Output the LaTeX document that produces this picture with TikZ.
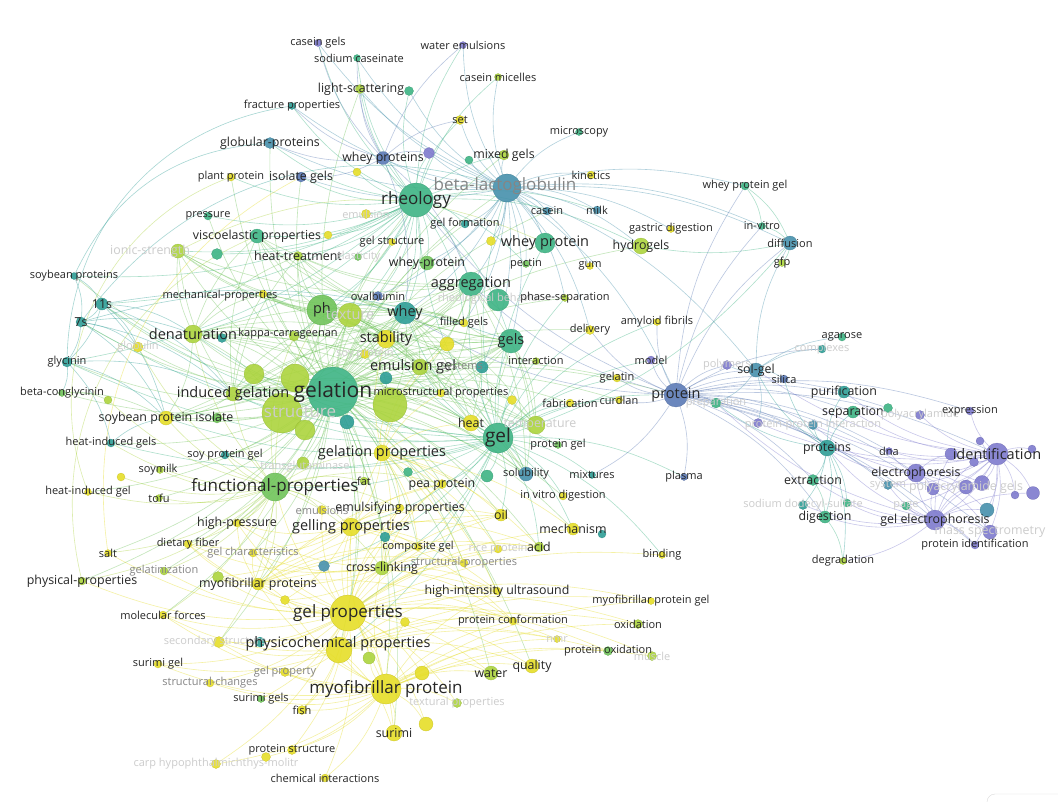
\documentclass[tikz,border=0pt]{standalone}
\usepackage{fontspec}
\setmainfont{Open Sans}
\usetikzlibrary{backgrounds}
\definecolor{VosYellow}{RGB}{230,222,40}
\definecolor{VosLime}{RGB}{172,212,62}
\definecolor{VosGreen}{RGB}{112,196,90}
\definecolor{VosSea}{RGB}{62,180,132}
\definecolor{VosTeal}{RGB}{46,158,150}
\definecolor{VosCyan}{RGB}{70,145,172}
\definecolor{VosBlue}{RGB}{92,122,182}
\definecolor{VosPurple}{RGB}{126,122,206}
\tikzset{
  kw/dot/.style={
    circle,
    fill=#1,
    draw=#1!85!black,
    line width=.2pt,
    inner sep=0pt,
    fill opacity=.9
  },
  kw/edge/.style={draw=#1, line width=.6pt, opacity=.42},
  kw/s/.style={inner sep=0pt, text=black!85, font=\fontsize{11}{11}\selectfont},
  kw/m/.style={inner sep=0pt, text=black!85, font=\fontsize{12.4}{12.4}\selectfont},
  kw/l/.style={inner sep=0pt, text=black!85, font=\fontsize{14.5}{14.5}\selectfont},
  kw/xl/.style={inner sep=0pt, text=black!85, font=\fontsize{17}{17}\selectfont},
  kw/xxl/.style={inner sep=0pt, text=black!85, font=\fontsize{19}{19}\selectfont},
  kw/top/.style={inner sep=0pt, text=black!85, font=\fontsize{21}{21}\selectfont},
  kw/grey/.style={text=black!48},
  kw/dim/.style={text=black!20}
}

\begin{document}
\begin{tikzpicture}[x=1pt,y=-1pt]
  \useasboundingbox (0,0) rectangle (1058,801);

  % keyword circles
  \node[kw/dot=VosPurple, minimum size=7pt] (caseingels) at (318,43) {};
  \node[kw/dot=VosSea, minimum size=7pt] (sodcas) at (357,58) {};
  \node[kw/dot=VosPurple, minimum size=7pt] (wateremul) at (463,45) {};
  \node[kw/dot=VosLime, minimum size=7pt] (caseinmic) at (498,77) {};
  \node[kw/dot=VosLime, minimum size=9pt] (lightsc) at (360,89) {};
  \node[kw/dot=VosSea, minimum size=9pt] (dot1) at (409,91) {};
  \node[kw/dot=VosTeal, minimum size=7pt] (fracture) at (292,106) {};
  \node[kw/dot=VosYellow, minimum size=9pt] (setn) at (460,120) {};
  \node[kw/dot=VosSea, minimum size=7pt] (microscopy) at (579,132) {};
  \node[kw/dot=VosCyan, minimum size=11pt] (globular) at (270,143) {};
  \node[kw/dot=VosBlue, minimum size=13pt] (wheyprots) at (383,158) {};
  \node[kw/dot=VosPurple, minimum size=11pt] (dot2) at (429,153) {};
  \node[kw/dot=VosSea, minimum size=8pt] (dot3) at (469,160) {};
  \node[kw/dot=VosLime, minimum size=10pt] (mixedgels) at (504,155) {};
  \node[kw/dot=VosYellow, minimum size=8pt] (kinetics) at (591,175) {};
  \node[kw/dot=VosSea, minimum size=8pt] (wpgel) at (745,186) {};
  \node[kw/dot=VosCyan, minimum size=28pt] (blg) at (507,188) {};
  \node[kw/dot=VosSea, minimum size=34pt] (rheology) at (416,200) {};
  \node[kw/dot=VosYellow, minimum size=8pt] (plantprot) at (231,177) {};
  \node[kw/dot=VosBlue, minimum size=10pt] (isolgels) at (301,177) {};
  \node[kw/dot=VosYellow, minimum size=8pt] (dot4) at (357,172) {};
  \node[kw/dot=VosSea, minimum size=8pt] (pressure) at (208,216) {};
  \node[kw/dot=VosYellow, minimum size=9pt] (emulsion) at (366,214) {};
  \node[kw/dot=VosSea, minimum size=14pt] (visco) at (257,236) {};
  \node[kw/dot=VosYellow, minimum size=8pt] (dot5) at (328,235) {};
  \node[kw/dot=VosLime, minimum size=14pt] (ionic) at (178,251) {};
  \node[kw/dot=VosSea, minimum size=11pt] (dot6) at (217,254) {};
  \node[kw/dot=VosLime, minimum size=9pt] (heattr) at (298,256) {};
  \node[kw/dot=VosGreen, minimum size=7pt] (elastic) at (358,257) {};
  \node[kw/dot=VosYellow, minimum size=7pt] (gelstruct) at (392,242) {};
  \node[kw/dot=VosTeal, minimum size=8pt] (gelform) at (465,224) {};
  \node[kw/dot=VosYellow, minimum size=9pt] (dot7) at (491,241) {};
  \node[kw/dot=VosGreen, minimum size=14pt] (wheyprotein2) at (427,263) {};
  \node[kw/dot=VosSea, minimum size=20pt] (wheyprotein) at (545,243) {};
  \node[kw/dot=VosCyan, minimum size=8pt] (casein) at (547,211) {};
  \node[kw/dot=VosCyan, minimum size=8pt] (milk) at (597,210) {};
  \node[kw/dot=VosYellow, minimum size=7pt] (gastric) at (671,229) {};
  \node[kw/dot=VosLime, minimum size=16pt] (hydrogels) at (641,246) {};
  \node[kw/dot=VosSea, minimum size=7pt] (invitro) at (762,226) {};
  \node[kw/dot=VosCyan, minimum size=14pt] (diffusion) at (790,243) {};
  \node[kw/dot=VosLime, minimum size=7pt] (gfp) at (782,263) {};
  \node[kw/dot=VosGreen, minimum size=7pt] (pectin) at (526,264) {};
  \node[kw/dot=VosYellow, minimum size=7pt] (gum) at (590,266) {};

  \node[kw/dot=VosTeal, minimum size=7pt] (soyprots) at (74,276) {};
  \node[kw/dot=VosYellow, minimum size=8pt] (mechprop) at (263,294) {};
  \node[kw/dot=VosTeal, minimum size=12pt] (elevens) at (102,304) {};
  \node[kw/dot=VosTeal, minimum size=10pt] (sevens) at (81,322) {};
  \node[kw/dot=VosLime, minimum size=18pt] (denat) at (193,334) {};
  \node[kw/dot=VosTeal, minimum size=9pt] (dot8) at (222,338) {};
  \node[kw/dot=VosLime, minimum size=10pt] (kappa) at (294,336) {};
  \node[kw/dot=VosYellow, minimum size=10pt] (globulin) at (138,347) {};
  \node[kw/dot=VosTeal, minimum size=10pt] (glycinin) at (67,362) {};
  \node[kw/dot=VosGreen, minimum size=7pt] (betacong) at (62,393) {};
  \node[kw/dot=VosLime, minimum size=8pt] (dot9) at (108,400) {};
  \node[kw/dot=VosGreen, minimum size=30pt] (ph) at (322,310) {};
  \node[kw/dot=VosLime, minimum size=24pt] (texture) at (350,315) {};
  \node[kw/dot=VosBlue, minimum size=9pt] (ovalb) at (378,296) {};
  \node[kw/dot=VosTeal, minimum size=22pt] (whey) at (405,313) {};
  \node[kw/dot=VosSea, minimum size=24pt] (aggreg) at (471,284) {};
  \node[kw/dot=VosSea, minimum size=22pt] (rheobeh) at (498,300) {};
  \node[kw/dot=VosLime, minimum size=7pt] (phasesep) at (565,298) {};
  \node[kw/dot=VosYellow, minimum size=8pt] (filled) at (464,323) {};
  \node[kw/dot=VosYellow, minimum size=18pt] (stability) at (386,339) {};
  \node[kw/dot=VosYellow, minimum size=9pt] (soyprotein) at (365,354) {};
  \node[kw/dot=VosYellow, minimum size=9pt] (delivery) at (590,330) {};
  \node[kw/dot=VosYellow, minimum size=7pt] (amyloid) at (657,322) {};
  \node[kw/dot=VosSea, minimum size=24pt] (gels) at (511,341) {};
  \node[kw/dot=VosYellow, minimum size=14pt] (dot10) at (447,344) {};
  \node[kw/dot=VosLime, minimum size=7pt] (interaction) at (536,361) {};
  \node[kw/dot=VosPurple, minimum size=8pt] (model) at (651,360) {};
  \node[kw/dot=VosLime, minimum size=16pt] (emulgel) at (420,367) {};
  \node[kw/dot=VosTeal, minimum size=12pt] (dot11) at (386,378) {};
  \node[kw/dot=VosTeal, minimum size=12pt] (systems) at (482,367) {};
  \node[kw/dot=VosYellow, minimum size=8pt] (gelatin) at (617,378) {};
  \node[kw/dot=VosYellow, minimum size=8pt] (microstr) at (441,393) {};
  \node[kw/dot=VosLime, minimum size=34pt] (dot12) at (390,405) {};
  \node[kw/dot=VosLime, minimum size=20pt] (dot13) at (254,374) {};
  \node[kw/dot=VosLime, minimum size=28pt] (dot14) at (295,378) {};
  \node[kw/dot=VosLime, minimum size=40pt] (structure) at (282,413) {};
  \node[kw/dot=VosLime, minimum size=20pt] (dot15) at (305,430) {};
  \node[kw/dot=VosTeal, minimum size=14pt] (dot16) at (347,422) {};
  \node[kw/dot=VosSea, minimum size=50pt] (gelation) at (333,392) {};
  \node[kw/dot=VosLime, minimum size=14pt] (induced) at (233,394) {};
  \node[kw/dot=VosBlue, minimum size=24pt] (protein) at (676,395) {};
  \node[kw/dot=VosYellow, minimum size=8pt] (fabric) at (570,403) {};
  \node[kw/dot=VosYellow, minimum size=7pt] (curdlan) at (619,400) {};
  \node[kw/dot=VosYellow, minimum size=9pt] (dot17) at (512,400) {};
  \node[kw/dot=VosYellow, minimum size=14pt] (spi) at (166,418) {};
  \node[kw/dot=VosGreen, minimum size=10pt] (dot18) at (217,418) {};
  \node[kw/dot=VosYellow, minimum size=16pt] (heat) at (471,423) {};
  \node[kw/dot=VosLime, minimum size=18pt] (temper) at (536,425) {};
  \node[kw/dot=VosSea, minimum size=30pt] (gel) at (498,438) {};
  \node[kw/dot=VosGreen, minimum size=7pt] (protgel) at (558,445) {};
  \node[kw/dot=VosTeal, minimum size=8pt] (hig) at (111,443) {};
  \node[kw/dot=VosTeal, minimum size=8pt] (soyprotgel) at (225,455) {};
  \node[kw/dot=VosYellow, minimum size=16pt] (gelprop) at (382,453) {};
  \node[kw/dot=VosYellow, minimum size=8pt] (dot19) at (121,477) {};
  \node[kw/dot=VosLime, minimum size=7pt] (soymilk) at (160,470) {};
  \node[kw/dot=VosLime, minimum size=12pt] (transglu) at (303,463) {};
  \node[kw/dot=VosLime, minimum size=8pt] (fat) at (364,481) {};
  \node[kw/dot=VosSea, minimum size=9pt] (dot20) at (408,472) {};
  \node[kw/dot=VosYellow, minimum size=9pt] (peaprot) at (442,484) {};
  \node[kw/dot=VosSea, minimum size=12pt] (dot21) at (487,476) {};
  \node[kw/dot=VosCyan, minimum size=14pt] (solub) at (526,474) {};
  \node[kw/dot=VosTeal, minimum size=7pt] (mixtures) at (592,475) {};
  \node[kw/dot=VosBlue, minimum size=7pt] (plasma) at (684,477) {};
  \node[kw/dot=VosYellow, minimum size=7pt] (higel) at (88,492) {};
  \node[kw/dot=VosLime, minimum size=7pt] (tofu) at (159,498) {};
  \node[kw/dot=VosGreen, minimum size=28pt] (funcprop) at (275,487) {};
  \node[kw/dot=VosYellow, minimum size=8pt] (invitrodig) at (563,496) {};
  \node[kw/dot=VosYellow, minimum size=9pt] (emulsions) at (322,510) {};
  \node[kw/dot=VosYellow, minimum size=8pt] (emulsif) at (400,508) {};
  \node[kw/dot=VosYellow, minimum size=12pt] (oil) at (501,515) {};
  \node[kw/dot=VosYellow, minimum size=8pt] (highpress) at (237,523) {};
  \node[kw/dot=VosYellow, minimum size=18pt] (gellingprop) at (351,527) {};
  \node[kw/dot=VosYellow, minimum size=12pt] (mechanism) at (573,529) {};
  \node[kw/dot=VosTeal, minimum size=8pt] (dot22) at (602,534) {};
  \node[kw/dot=VosTeal, minimum size=10pt] (dot23) at (385,537) {};
  \node[kw/dot=VosYellow, minimum size=7pt] (compgel) at (418,547) {};
  \node[kw/dot=VosYellow, minimum size=8pt] (dietfib) at (188,544) {};
  \node[kw/dot=VosYellow, minimum size=7pt] (salt) at (108,553) {};
  \node[kw/dot=VosYellow, minimum size=8pt] (gelchar) at (253,553) {};
  \node[kw/dot=VosYellow, minimum size=8pt] (riceprot) at (498,549) {};
  \node[kw/dot=VosLime, minimum size=10pt] (acid) at (539,547) {};
  \node[kw/dot=VosYellow, minimum size=7pt] (binding) at (662,555) {};
  \node[kw/dot=VosLime, minimum size=8pt] (gelatiniz) at (164,571) {};
  \node[kw/dot=VosYellow, minimum size=8pt] (structprop) at (464,563) {};
  \node[kw/dot=VosLime, minimum size=14pt] (crosslink) at (382,568) {};
  \node[kw/dot=VosCyan, minimum size=11pt] (dot24) at (324,566) {};
  \node[kw/dot=VosLime, minimum size=8pt] (physprop) at (82,581) {};
  \node[kw/dot=VosYellow, minimum size=12pt] (myofprots) at (258,584) {};
  \node[kw/dot=VosLime, minimum size=11pt] (dot25) at (218,577) {};
  \node[kw/dot=VosYellow, minimum size=8pt] (hiu) at (497,591) {};
  \node[kw/dot=VosYellow, minimum size=7pt] (myopgel) at (651,601) {};
  \node[kw/dot=VosYellow, minimum size=36pt] (gelproperties) at (348,613) {};
  \node[kw/dot=VosYellow, minimum size=9pt] (dot26) at (285,600) {};
  \node[kw/dot=VosYellow, minimum size=8pt] (molforces) at (163,615) {};
  \node[kw/dot=VosYellow, minimum size=8pt] (protconf) at (513,621) {};
  \node[kw/dot=VosYellow, minimum size=9pt] (dot27) at (405,622) {};
  \node[kw/dot=VosLime, minimum size=9pt] (oxidation) at (638,624) {};
  \node[kw/dot=VosYellow, minimum size=11pt] (secstruct) at (219,642) {};
  \node[kw/dot=VosTeal, minimum size=10pt] (dot28) at (260,642) {};
  \node[kw/dot=VosYellow, minimum size=26pt] (physchem) at (339,650) {};
  \node[kw/dot=VosLime, minimum size=12pt] (dot29) at (369,658) {};
  \node[kw/dot=VosYellow, minimum size=7pt] (nmr) at (557,639) {};
  \node[kw/dot=VosGreen, minimum size=9pt] (protox) at (608,651) {};
  \node[kw/dot=VosLime, minimum size=9pt] (muscle) at (652,656) {};
  \node[kw/dot=VosYellow, minimum size=8pt] (surimigel) at (158,664) {};
  \node[kw/dot=VosYellow, minimum size=9pt] (gelproperty) at (285,672) {};
  \node[kw/dot=VosLime, minimum size=14pt] (water) at (491,673) {};
  \node[kw/dot=VosYellow, minimum size=14pt] (quality) at (532,666) {};
  \node[kw/dot=VosYellow, minimum size=14pt] (dot30) at (422,673) {};
  \node[kw/dot=VosYellow, minimum size=8pt] (structch) at (210,683) {};
  \node[kw/dot=VosYellow, minimum size=30pt] (myofprot) at (386,689) {};
  \node[kw/dot=VosLime, minimum size=9pt] (textural) at (457,703) {};
  \node[kw/dot=VosGreen, minimum size=7pt] (surimigels) at (261,699) {};
  \node[kw/dot=VosYellow, minimum size=9pt] (fish) at (302,710) {};
  \node[kw/dot=VosYellow, minimum size=16pt] (surimi) at (394,733) {};
  \node[kw/dot=VosYellow, minimum size=14pt] (dot31) at (426,724) {};
  \node[kw/dot=VosYellow, minimum size=9pt] (protstruct) at (292,750) {};
  \node[kw/dot=VosYellow, minimum size=9pt] (dot32) at (266,757) {};
  \node[kw/dot=VosYellow, minimum size=9pt] (carp) at (216,764) {};
  \node[kw/dot=VosYellow, minimum size=8pt] (cheminter) at (325,778) {};

  \node[kw/dot=VosSea, minimum size=8pt] (agarose) at (842,337) {};
  \node[kw/dot=VosTeal, minimum size=8pt] (complexes) at (822,349) {};
  \node[kw/dot=VosPurple, minimum size=9pt] (polymers) at (727,365) {};
  \node[kw/dot=VosCyan, minimum size=14pt] (solgel) at (756,370) {};
  \node[kw/dot=VosBlue, minimum size=8pt] (silica) at (784,379) {};
  \node[kw/dot=VosSea, minimum size=10pt] (prep) at (716,403) {};
  \node[kw/dot=VosTeal, minimum size=12pt] (purif) at (844,392) {};
  \node[kw/dot=VosSea, minimum size=12pt] (separ) at (853,412) {};
  \node[kw/dot=VosSea, minimum size=9pt] (dot33) at (888,408) {};
  \node[kw/dot=VosPurple, minimum size=9pt] (polyacr) at (920,415) {};
  \node[kw/dot=VosPurple, minimum size=8pt] (expression) at (970,411) {};
  \node[kw/dot=VosPurple, minimum size=9pt] (dot34) at (758,423) {};
  \node[kw/dot=VosCyan, minimum size=9pt] (ppi) at (813,425) {};
  \node[kw/dot=VosTeal, minimum size=16pt] (proteins) at (827,448) {};
  \node[kw/dot=VosPurple, minimum size=7pt] (dna) at (889,451) {};
  \node[kw/dot=VosPurple, minimum size=8pt] (mice) at (980,441) {};
  \node[kw/dot=VosPurple, minimum size=22pt] (ident) at (997,454) {};
  \node[kw/dot=VosPurple, minimum size=12pt] (dot35) at (951,454) {};
  \node[kw/dot=VosPurple, minimum size=9pt] (dot36) at (974,462) {};
  \node[kw/dot=VosPurple, minimum size=8pt] (dot37) at (1032,449) {};
  \node[kw/dot=VosPurple, minimum size=18pt] (electro) at (916,473) {};
  \node[kw/dot=VosPurple, minimum size=12pt] (dot38) at (933,489) {};
  \node[kw/dot=VosPurple, minimum size=14pt] (polygels) at (966,487) {};
  \node[kw/dot=VosPurple, minimum size=15pt] (dot40) at (982,483) {};
  \node[kw/dot=VosPurple, minimum size=8pt] (dot41) at (1015,495) {};
  \node[kw/dot=VosPurple, minimum size=13pt] (dot42) at (1033,493) {};
  \node[kw/dot=VosCyan, minimum size=9pt] (system) at (888,485) {};
  \node[kw/dot=VosSea, minimum size=11pt] (extraction) at (813,480) {};
  \node[kw/dot=VosTeal, minimum size=9pt] (sds) at (803,505) {};
  \node[kw/dot=VosSea, minimum size=8pt] (dot43) at (847,503) {};
  \node[kw/dot=VosSea, minimum size=8pt] (page) at (906,506) {};
  \node[kw/dot=VosSea, minimum size=12pt] (digestion) at (825,517) {};
  \node[kw/dot=VosPurple, minimum size=20pt] (gelelec) at (935,520) {};
  \node[kw/dot=VosCyan, minimum size=14pt] (dot44) at (987,510) {};
  \node[kw/dot=VosPurple, minimum size=14pt] (massspec) at (990,532) {};
  \node[kw/dot=VosPurple, minimum size=8pt] (protident) at (975,545) {};
  \node[kw/dot=VosLime, minimum size=7pt] (degrad) at (843,561) {};

  % links, behind the circles
  \begin{scope}[on background layer]
    \fill[white] (0,0) rectangle (1058,801);
    \foreach \t in {ph,texture,whey,rheology,stability,emulgel,induced,denat,funcprop,gelprop,gellingprop,gelproperties,physchem,myofprot,gel,gels,heat,aggreg,wheyprotein,spi,soyprotgel,hig,glycinin,elevens,sevens,soyprots,kappa,visco,heattr,ionic,pressure,globular,isolgels,plantprot,mechprop,microstr,temper,protein,solub,peaprot,emulsif,crosslink,myofprots,highpress,dietfib,salt,tofu,soymilk,higel,betacong,globulin,blg,fat,transglu,oil,mechanism,hydrogels,delivery,filled,phasesep,interaction,gelatin,curdlan,fabric,compgel,acid,hiu,physprop,gelatiniz,gelchar,structprop,riceprot,wheyprotein2,gelstruct,gelform,casein,mixedgels,lightsc,ovalb,surimi,water,quality,invitrodig,protgel,molforces,secstruct,dot13,dot14,structure,dot12,dot15,dot16,dot8,dot18,systems,dot10,dot11,dot17}
      \draw[kw/edge=VosGreen] (gelation) to[bend left=14] (\t);
    \foreach \t in {protein,gels,heat,temper,protgel,solub,mixtures,plasma,invitrodig,fabric,curdlan,gelatin,delivery,interaction,aggreg,whey,stability,rheology,blg,wheyprotein,funcprop,gellingprop,gelproperties,oil,mechanism,acid,binding,peaprot,emulgel,dot21,dot24,crosslink,gelprop,physchem,induced,denat,spi,soyprotgel,elevens,sevens,glycinin,hig,model,amyloid,phasesep,systems,dot17}
      \draw[kw/edge=VosSea] (gel) to[bend left=14] (\t);
    \foreach \t in {blg,wheyprots,globular,visco,heattr,lightsc,fracture,caseingels,sodcas,setn,wateremul,caseinmic,dot1,dot2,mixedgels,gelform,gelstruct,wheyprotein2,aggreg,ph,whey,texture,stability,gels,kappa,isolgels,plantprot,pressure,emulsion,ionic,elevens,glycinin,denat,milk,casein,pectin,hydrogels,ovalb,dot4,dot5,dot6,elastic,soyprots,filled}
      \draw[kw/edge=VosSea] (rheology) to[bend left=14] (\t);
    \foreach \t in {wheyprots,dot2,dot3,mixedgels,setn,wateremul,caseinmic,microscopy,kinetics,wpgel,diffusion,invitro,casein,milk,wheyprotein,aggreg,gels,whey,protein,gastric,hydrogels,globular,lightsc,sodcas,fracture,gelform,phasesep,pectin,gum,delivery,solgel,dot1,caseingels,isolgels,ovalb,wheyprotein2,filled,systems,dot7}
      \draw[kw/edge=VosCyan] (blg) to[bend left=14] (\t);
    \foreach \t in {caseingels,sodcas,wateremul,globular,fracture,isolgels,setn,dot2,lightsc,whey,aggreg}
      \draw[kw/edge=VosBlue] (wheyprots) to[bend left=14] (\t);
    \foreach \t in {solgel,silica,polymers,prep,purif,separ,ppi,proteins,ident,electro,gelelec,dna,digestion,extraction,model,dot34,wpgel,diffusion,invitro,massspec,protident,expression,plasma,mixtures,gelatin,curdlan,delivery,amyloid,rheology,whey,aggreg,complexes,system,dot33}
      \draw[kw/edge=VosBlue] (protein) to[bend left=14] (\t);
    \foreach \t in {dot35,dot36,dot37,electro,dot38,polygels,dot40,dot41,dot42,gelelec,massspec,protident,expression,mice,dna,dot44,polyacr,proteins,system,page,separ,purif,solgel,ppi,dot34}
      \draw[kw/edge=VosPurple] (ident) to[bend left=14] (\t);
    \foreach \t in {electro,dot38,polygels,dot40,dot42,dot44,massspec,protident,digestion,sds,extraction,proteins,page,dot43,degrad,system,prep,dot35,dot36}
      \draw[kw/edge=VosPurple] (gelelec) to[bend left=14] (\t);
    \foreach \t in {dot38,polygels,dot40,dot35,dot44,massspec,proteins,dna,system,ppi}
      \draw[kw/edge=VosPurple] (electro) to[bend left=14] (\t);
    \foreach \t in {digestion,extraction,degrad,sds,dot43,purif,separ,ppi,solgel,prep,silica}
      \draw[kw/edge=VosTeal] (proteins) to[bend left=14] (\t);
    \foreach \t in {silica,complexes,agarose,prep,polymers,dot34,diffusion}
      \draw[kw/edge=VosCyan] (solgel) to[bend left=14] (\t);
    \foreach \t in {myofprot,physchem,myofprots,gellingprop,crosslink,hiu,protconf,water,quality,surimi,dot31,dot30,fish,surimigels,gelproperty,structch,surimigel,secstruct,molforces,physprop,salt,dietfib,gelatiniz,gelchar,dot25,dot26,dot28,dot29,oxidation,protox,myopgel,nmr,muscle,textural,binding,mechanism,acid,structprop,riceprot,compgel,oil,emulsif,peaprot,highpress,funcprop,protstruct,cheminter,carp,dot27,gelprop,dot23,dot24,emulsions}
      \draw[kw/edge=VosYellow] (gelproperties) to[bend left=14] (\t);
    \foreach \t in {surimi,dot31,fish,surimigels,gelproperty,protstruct,dot32,cheminter,carp,water,quality,textural,protox,oxidation,muscle,nmr,protconf,hiu,physchem,myofprots,crosslink,gellingprop,structch,secstruct,surimigel,molforces,myopgel,dot29,dot30,dot27,dot26}
      \draw[kw/edge=VosYellow] (myofprot) to[bend left=14] (\t);
    \foreach \t in {spi,soyprotgel,soymilk,tofu,higel,hig,highpress,dietfib,salt,physprop,gelatiniz,gelchar,myofprots,gellingprop,gelprop,emulsions,emulsif,transglu,fat,peaprot,crosslink,denat,induced,ph,dot19,dot9,globulin,kappa,secstruct,molforces}
      \draw[kw/edge=VosLime] (funcprop) to[bend left=14] (\t);
    \foreach \t in {hiu,protconf,water,quality,nmr,protox,oxidation,myopgel,secstruct,molforces,surimigel,gelproperty,fish,surimi}
      \draw[kw/edge=VosYellow] (physchem) to[bend left=14] (\t);
    \foreach \t in {gellingprop,crosslink,heat,oil,emulsif,peaprot,stability,emulgel,dot10,dot12,microstr,compgel,structprop,riceprot,hiu,acid,mechanism}
      \draw[kw/edge=VosYellow] (gelprop) to[bend left=14] (\t);
    % mesh among the mid-sized keywords
    \foreach \s in {ph,whey,aggreg,gels,texture,denat,induced}
      \foreach \t in {visco,heattr,kappa,mechprop,ionic,stability,emulgel,heat,temper,solub,spi,filled,microstr,dot12,dot14,structure}
        \draw[kw/edge=VosGreen] (\s) to[bend left=14] (\t);
    \foreach \s in {gellingprop,crosslink,myofprots}
      \foreach \t in {highpress,dietfib,gelchar,compgel,structprop,hiu,protconf,emulsif,peaprot,oil,acid,dot25,dot26}
        \draw[kw/edge=VosYellow] (\s) to[bend left=14] (\t);
    \foreach \t in {sevens,glycinin,spi,globulin,denat,induced,gels}
      \draw[kw/edge=VosTeal] (elevens) to[bend left=14] (\t);
    \foreach \t in {glycinin,spi,globulin,denat,induced,whey}
      \draw[kw/edge=VosTeal] (sevens) to[bend left=14] (\t);
    \foreach \t in {elevens,sevens}
      \draw[kw/edge=VosTeal] (soyprots) to[bend left=14] (\t);
    \foreach \t in {betacong,spi,hig,induced}
      \draw[kw/edge=VosTeal] (glycinin) to[bend left=14] (\t);
    \draw[kw/edge=VosGreen] (betacong) to[bend left=14] (spi);
    \draw[kw/edge=VosGreen] (betacong) to[bend left=14] (dot9);
    \draw[kw/edge=VosTeal] (hig) to[bend left=14] (spi);
    % long arcs round the left side
    \draw[kw/edge=VosTeal] (soyprots) to[bend left=30] (globular);
    \draw[kw/edge=VosTeal] (glycinin) to[bend left=40] (fracture);
    \draw[kw/edge=VosLime] (higel) to[bend left=45] (plantprot);
    \draw[kw/edge=VosLime] (physprop) to[bend left=40] (visco);
    \draw[kw/edge=VosYellow] (salt) to[bend left=35] (isolgels);
    \draw[kw/edge=VosTeal] (sevens) to[bend left=35] (blg);
    \draw[kw/edge=VosLime] (ionic) to[bend left=25] (wheyprotein);
    % whey protein gel corner
    \draw[kw/edge=VosSea] (wpgel) to[bend left=14] (invitro);
    \draw[kw/edge=VosSea] (wpgel) to[bend left=14] (diffusion);
    \draw[kw/edge=VosSea] (invitro) to[bend left=14] (diffusion);
    \draw[kw/edge=VosSea] (diffusion) to[bend left=14] (gfp);
    \draw[kw/edge=VosSea] (gel) to[bend right=15] (diffusion);
    \draw[kw/edge=VosSea] (hydrogels) to[bend right=10] (diffusion);
    \draw[kw/edge=VosSea] (digestion) to[bend left=14] (degrad);
    \draw[kw/edge=VosSea] (extraction) to[bend left=14] (digestion);
  \end{scope}

  % bottom right corner of the view frame
  \draw[black!15, rounded corners=8pt] (987,806) -- (987,794) -- (1062,794);

  % keyword labels
  \node[kw/s] (caseingels-t) at (caseingels) {casein gels};
  \node[kw/s] (sodcas-t) at (359,58) {sodium caseinate};
  \node[kw/s] (wateremul-t) at (wateremul) {water emulsions};
  \node[kw/s] (caseinmic-t) at (caseinmic) {casein micelles};
  \node[kw/m] (lightsc-t) at (361,89) {light-scattering};
  \node[kw/s] (fracture-t) at (fracture) {fracture properties};
  \node[kw/s] (setn-t) at (setn) {set};
  \node[kw/s] (microscopy-t) at (microscopy) {microscopy};
  \node[kw/m] (globular-t) at (globular) {globular-proteins};
  \node[kw/m] (wheyprots-t) at (wheyprots) {whey proteins};
  \node[kw/m] (mixedgels-t) at (mixedgels) {mixed gels};
  \node[kw/s] (kinetics-t) at (kinetics) {kinetics};
  \node[kw/s] (wpgel-t) at (wpgel) {whey protein gel};
  \node[kw/xl, kw/grey] (blg-t) at (505,186) {beta-lactoglobulin};
  \node[kw/xl] (rheology-t) at (rheology) {rheology};
  \node[kw/s] (plantprot-t) at (plantprot) {plant protein};
  \node[kw/m] (isolgels-t) at (isolgels) {isolate gels};
  \node[kw/s] (pressure-t) at (pressure) {pressure};
  \node[kw/s, kw/dim] (emulsion-t) at (emulsion) {emulsion};
  \node[kw/m] (visco-t) at (visco) {viscoelastic properties};
  \node[kw/m, kw/dim] (ionic-t) at (150,251) {ionic-strength};
  \node[kw/m] (heattr-t) at (heattr) {heat-treatment};
  \node[kw/s, kw/dim] (elastic-t) at (elastic) {elasticity};
  \node[kw/s] (gelstruct-t) at (gelstruct) {gel structure};
  \node[kw/s] (gelform-t) at (gelform) {gel formation};
  \node[kw/m] (wheyprotein2-t) at (wheyprotein2) {whey-protein};
  \node[kw/l] (wheyprotein-t) at (wheyprotein) {whey protein};
  \node[kw/s] (casein-t) at (casein) {casein};
  \node[kw/s] (milk-t) at (milk) {milk};
  \node[kw/s] (gastric-t) at (gastric) {gastric digestion};
  \node[kw/m] (hydrogels-t) at (hydrogels) {hydrogels};
  \node[kw/s] (invitro-t) at (invitro) {in-vitro};
  \node[kw/s] (diffusion-t) at (diffusion) {diffusion};
  \node[kw/s] (gfp-t) at (gfp) {gfp};
  \node[kw/s] (pectin-t) at (pectin) {pectin};
  \node[kw/s] (gum-t) at (gum) {gum};

  \node[kw/s] (soyprots-t) at (soyprots) {soybean proteins};
  \node[kw/s] (mechprop-t) at (220,296) {mechanical-properties};
  \node[kw/m] (elevens-t) at (elevens) {11s};
  \node[kw/m] (sevens-t) at (sevens) {7s};
  \node[kw/l] (denat-t) at (denat) {denaturation};
  \node[kw/s] (kappa-t) at (288,334) {kappa-carrageenan};
  \node[kw/s, kw/dim] (globulin-t) at (globulin) {globulin};
  \node[kw/s] (glycinin-t) at (glycinin) {glycinin};
  \node[kw/s] (betacong-t) at (betacong) {beta-conglycinin};
  \node[kw/l] (ph-t) at (ph) {ph};
  \node[kw/l, kw/dim] (texture-t) at (texture) {texture};
  \node[kw/s] (ovalb-t) at (ovalb) {ovalbumin};
  \node[kw/l] (whey-t) at (whey) {whey};
  \node[kw/l] (aggreg-t) at (aggreg) {aggregation};
  \node[kw/s, kw/dim] (rheobeh-t) at (490,299) {rheological behavior};
  \node[kw/s] (phasesep-t) at (phasesep) {phase-separation};
  \node[kw/s] (filled-t) at (filled) {filled gels};
  \node[kw/l] (stability-t) at (stability) {stability};
  \node[kw/s, kw/dim] (soyprotein-t) at (soyprotein) {soy protein};
  \node[kw/s] (delivery-t) at (delivery) {delivery};
  \node[kw/s] (amyloid-t) at (amyloid) {amyloid fibrils};
  \node[kw/l] (gels-t) at (gels) {gels};
  \node[kw/s] (interaction-t) at (interaction) {interaction};
  \node[kw/s] (model-t) at (model) {model};
  \node[kw/l] (emulgel-t) at (413,367) {emulsion gel};
  \node[kw/s, kw/grey] (systems-t) at (462,367) {systems};
  \node[kw/s] (gelatin-t) at (gelatin) {gelatin};
  \node[kw/s] (microstr-t) at (microstr) {microstructural properties};
  \node[kw/xl, kw/dim] (structure-t) at (300,412) {structure};
  \node[kw/top] (gelation-t) at (gelation) {gelation};
  \node[kw/l] (induced-t) at (induced) {induced gelation};
  \node[kw/l] (protein-t) at (protein) {protein};
  \node[kw/s] (fabric-t) at (fabric) {fabrication};
  \node[kw/s] (curdlan-t) at (curdlan) {curdlan};
  \node[kw/m] (spi-t) at (spi) {soybean protein isolate};
  \node[kw/m] (heat-t) at (heat) {heat};
  \node[kw/m, kw/dim] (temper-t) at (540,425) {temperature};
  \node[kw/xxl] (gel-t) at (gel) {gel};
  \node[kw/s] (protgel-t) at (protgel) {protein gel};
  \node[kw/s] (hig-t) at (hig) {heat-induced gels};
  \node[kw/s] (soyprotgel-t) at (soyprotgel) {soy protein gel};
  \node[kw/l] (gelprop-t) at (gelprop) {gelation properties};
  \node[kw/s] (soymilk-t) at (158,470) {soymilk};
  \node[kw/s, kw/dim] (transglu-t) at (305,467) {transglutaminase};
  \node[kw/s] (fat-t) at (fat) {fat};
  \node[kw/m] (peaprot-t) at (peaprot) {pea protein};
  \node[kw/s] (solub-t) at (solub) {solubility};
  \node[kw/s] (mixtures-t) at (mixtures) {mixtures};
  \node[kw/s] (plasma-t) at (plasma) {plasma};
  \node[kw/s] (higel-t) at (higel) {heat-induced gel};
  \node[kw/s] (tofu-t) at (tofu) {tofu};
  \node[kw/xl] (funcprop-t) at (funcprop) {functional-properties};
  \node[kw/s] (invitrodig-t) at (invitrodig) {in vitro digestion};
  \node[kw/s, kw/grey] (emulsions-t) at (emulsions) {emulsions};
  \node[kw/m] (emulsif-t) at (emulsif) {emulsifying properties};
  \node[kw/m] (oil-t) at (oil) {oil};
  \node[kw/m] (highpress-t) at (highpress) {high-pressure};
  \node[kw/l] (gellingprop-t) at (gellingprop) {gelling properties};
  \node[kw/m] (mechanism-t) at (mechanism) {mechanism};
  \node[kw/s] (compgel-t) at (compgel) {composite gel};
  \node[kw/s] (dietfib-t) at (dietfib) {dietary fiber};
  \node[kw/s] (salt-t) at (salt) {salt};
  \node[kw/s, kw/grey] (gelchar-t) at (gelchar) {gel characteristics};
  \node[kw/s, kw/dim] (riceprot-t) at (riceprot) {rice protein};
  \node[kw/m] (acid-t) at (acid) {acid};
  \node[kw/s] (binding-t) at (binding) {binding};
  \node[kw/s, kw/grey] (gelatiniz-t) at (gelatiniz) {gelatinization};
  \node[kw/s, kw/grey] (structprop-t) at (structprop) {structural-properties};
  \node[kw/m] (crosslink-t) at (crosslink) {cross-linking};
  \node[kw/m] (physprop-t) at (physprop) {physical-properties};
  \node[kw/m] (myofprots-t) at (myofprots) {myofibrillar proteins};
  \node[kw/m] (hiu-t) at (hiu) {high-intensity ultrasound};
  \node[kw/s] (myopgel-t) at (myopgel) {myofibrillar protein gel};
  \node[kw/xl] (gelproperties-t) at (gelproperties) {gel properties};
  \node[kw/s] (molforces-t) at (molforces) {molecular forces};
  \node[kw/s] (protconf-t) at (protconf) {protein conformation};
  \node[kw/s] (oxidation-t) at (oxidation) {oxidation};
  \node[kw/s, kw/dim] (secstruct-t) at (215,642) {secondary structure};
  \node[kw/l] (physchem-t) at (338,644) {physicochemical properties};
  \node[kw/s, kw/dim] (nmr-t) at (nmr) {nmr};
  \node[kw/s] (protox-t) at (protox) {protein oxidation};
  \node[kw/s, kw/dim] (muscle-t) at (muscle) {muscle};
  \node[kw/s] (surimigel-t) at (surimigel) {surimi gel};
  \node[kw/s, kw/grey] (gelproperty-t) at (gelproperty) {gel property};
  \node[kw/m] (water-t) at (water) {water};
  \node[kw/m] (quality-t) at (quality) {quality};
  \node[kw/s, kw/grey] (structch-t) at (structch) {structural-changes};
  \node[kw/xl] (myofprot-t) at (myofprot) {myofibrillar protein};
  \node[kw/s, kw/dim] (textural-t) at (textural) {textural properties};
  \node[kw/s] (surimigels-t) at (surimigels) {surimi gels};
  \node[kw/s] (fish-t) at (fish) {fish};
  \node[kw/m] (surimi-t) at (surimi) {surimi};
  \node[kw/s] (protstruct-t) at (protstruct) {protein structure};
  \node[kw/s, kw/dim] (carp-t) at (carp) {carp hypophthalmichthys-molitr};
  \node[kw/s] (cheminter-t) at (cheminter) {chemical interactions};

  \node[kw/s] (agarose-t) at (agarose) {agarose};
  \node[kw/s, kw/dim] (complexes-t) at (complexes) {complexes};
  \node[kw/s, kw/dim] (polymers-t) at (polymers) {polymers};
  \node[kw/m] (solgel-t) at (solgel) {sol-gel};
  \node[kw/s] (silica-t) at (silica) {silica};
  \node[kw/s, kw/dim] (prep-t) at (prep) {preparation};
  \node[kw/m] (purif-t) at (purif) {purification};
  \node[kw/m] (separ-t) at (separ) {separation};
  \node[kw/s, kw/dim] (polyacr-t) at (polyacr) {polyacrylamide};
  \node[kw/s] (expression-t) at (expression) {expression};
  \node[kw/s, kw/dim] (ppi-t) at (ppi) {protein-protein interaction};
  \node[kw/m] (proteins-t) at (proteins) {proteins};
  \node[kw/s] (dna-t) at (dna) {dna};
  \node[kw/l] (ident-t) at (ident) {identification};
  \node[kw/m] (electro-t) at (electro) {electrophoresis};
  \node[kw/m, kw/dim] (polygels-t) at (polygels) {polyacrylamide gels};
  \node[kw/s, kw/dim] (system-t) at (system) {system};
  \node[kw/m] (extraction-t) at (extraction) {extraction};
  \node[kw/s, kw/dim] (sds-t) at (sds) {sodium dodecyl-sulfate};
  \node[kw/s, kw/dim] (page-t) at (page) {page};
  \node[kw/m] (digestion-t) at (digestion) {digestion};
  \node[kw/m] (gelelec-t) at (gelelec) {gel electrophoresis};
  \node[kw/m, kw/dim] (massspec-t) at (massspec) {mass spectrometry};
  \node[kw/s] (protident-t) at (protident) {protein identification};
  \node[kw/s] (degrad-t) at (degrad) {degradation};
\end{tikzpicture}
\end{document}
